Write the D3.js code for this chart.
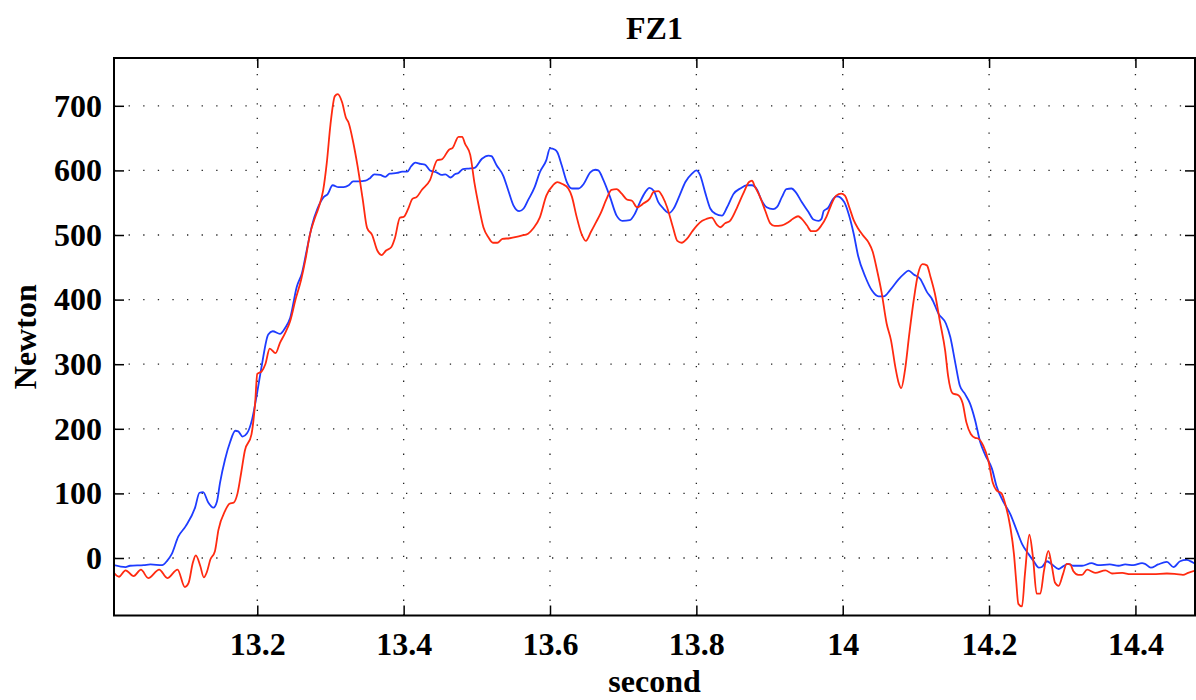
<!DOCTYPE html>
<html>
<head>
<meta charset="utf-8">
<script src="https://cdn.jsdelivr.net/npm/d3@7"></script>
<style>
  body { margin: 0; background: #fff; }
  text { font-family: "Liberation Serif", "Times New Roman", serif; font-weight: bold; }
</style>
</head>
<body>
<svg id="chart" width="1196" height="700"></svg>
<script>
// tick values
const xTicks = [13.2, 13.4, 13.6, 13.8, 14, 14.2, 14.4];
const yTicks = [0, 100, 200, 300, 400, 500, 600, 700];

// blue trace: [second, newton]
const blueSeries = [
  [13.004,-11],[13.020,-14],[13.026,-12],[13.045,-11],[13.054,-10],[13.070,-11],[13.077,-4],[13.083,6],
  [13.092,33],[13.102,49],[13.115,78],[13.121,101],[13.126,102],[13.133,86],[13.140,78],[13.145,88],
  [13.149,116],[13.156,153],[13.163,180],[13.170,197],[13.174,196],[13.180,188],[13.186,193],[13.193,215],
  [13.200,257],[13.206,297],[13.215,346],[13.221,351],[13.231,347],[13.238,356],[13.245,372],[13.254,420],
  [13.261,441],[13.268,479],[13.275,516],[13.282,540],[13.291,559],[13.296,563],[13.303,577],[13.311,574],
  [13.318,574],[13.325,577],[13.331,583],[13.339,583],[13.348,584],[13.354,588],[13.360,594],[13.368,593],
  [13.375,590],[13.381,595],[13.391,596],[13.398,598],[13.405,598],[13.410,606],[13.416,612],[13.423,610],
  [13.429,609],[13.436,600],[13.445,597],[13.452,593],[13.457,594],[13.464,589],[13.470,594],[13.475,596],
  [13.481,602],[13.491,603],[13.497,604],[13.507,618],[13.516,623],[13.520,622],[13.527,608],[13.536,592],
  [13.543,569],[13.550,546],[13.558,537],[13.564,541],[13.570,554],[13.579,574],[13.586,597],[13.595,616],
  [13.600,634],[13.607,632],[13.610,628],[13.616,608],[13.623,582],[13.630,572],[13.639,572],[13.646,579],
  [13.655,597],[13.662,601],[13.666,600],[13.673,585],[13.682,559],[13.691,530],[13.699,522],[13.709,523],
  [13.716,533],[13.723,551],[13.730,566],[13.736,573],[13.742,568],[13.748,551],[13.755,541],[13.763,534],
  [13.769,541],[13.777,561],[13.785,582],[13.794,595],[13.800,600],[13.805,593],[13.812,566],[13.819,541],
  [13.826,533],[13.835,530],[13.842,543],[13.851,564],[13.860,572],[13.869,577],[13.876,577],[13.883,570],
  [13.889,554],[13.896,543],[13.905,540],[13.910,543],[13.917,559],[13.923,571],[13.930,572],[13.936,566],
  [13.944,551],[13.953,536],[13.960,524],[13.967,522],[13.971,525],[13.974,537],[13.980,542],[13.987,556],
  [13.992,560],[14.002,551],[14.008,533],[14.015,502],[14.021,468],[14.031,435],[14.040,414],[14.049,405],
  [14.056,405],[14.065,415],[14.076,431],[14.083,439],[14.090,445],[14.097,439],[14.106,432],[14.115,412],
  [14.122,401],[14.131,378],[14.141,363],[14.147,342],[14.154,301],[14.160,267],[14.167,254],[14.174,239],
  [14.181,213],[14.188,179],[14.195,159],[14.204,138],[14.210,112],[14.220,86],[14.229,68],[14.238,42],
  [14.245,22],[14.254,6],[14.261,-5],[14.268,-15],[14.272,-14],[14.279,-5],[14.286,-10],[14.295,-17],
  [14.301,-13],[14.308,-9],[14.315,-12],[14.327,-12],[14.340,-8],[14.349,-11],[14.365,-10],[14.377,-12],
  [14.386,-10],[14.397,-11],[14.409,-8],[14.413,-9],[14.421,-15],[14.431,-10],[14.443,-6],[14.452,-14],
  [14.461,-5],[14.470,-3],[14.477,-6],[14.483,-10]
];

// red trace: [second, newton]
const redSeries = [
  [13.004,-23],[13.011,-29],[13.020,-19],[13.031,-28],[13.041,-18],[13.051,-31],[13.066,-18],[13.077,-31],
  [13.091,-18],[13.101,-45],[13.106,-39],[13.112,-7],[13.116,4],[13.122,-12],[13.127,-30],[13.131,-22],
  [13.136,-2],[13.142,10],[13.147,44],[13.156,73],[13.162,84],[13.168,86],[13.173,100],[13.178,132],
  [13.183,166],[13.192,191],[13.197,239],[13.200,285],[13.206,289],[13.211,300],[13.217,324],[13.225,317],
  [13.231,333],[13.238,348],[13.245,367],[13.252,399],[13.260,431],[13.266,463],[13.272,501],[13.278,524],
  [13.284,543],[13.290,569],[13.295,612],[13.300,671],[13.306,715],[13.310,718],[13.316,705],[13.321,682],
  [13.325,673],[13.331,644],[13.337,607],[13.344,556],[13.350,511],[13.357,500],[13.364,476],[13.370,469],
  [13.376,476],[13.383,481],[13.388,495],[13.395,527],[13.400,528],[13.406,540],[13.412,556],[13.418,559],
  [13.425,570],[13.436,585],[13.446,616],[13.452,617],[13.462,632],[13.467,635],[13.475,652],[13.480,652],
  [13.484,641],[13.491,624],[13.497,579],[13.503,543],[13.509,512],[13.516,496],[13.522,488],[13.528,488],
  [13.535,494],[13.545,495],[13.554,497],[13.561,499],[13.570,502],[13.577,510],[13.586,527],[13.595,561],
  [13.604,577],[13.610,582],[13.617,579],[13.625,572],[13.630,559],[13.636,530],[13.643,502],[13.649,491],
  [13.656,505],[13.663,520],[13.669,533],[13.677,555],[13.684,570],[13.691,571],[13.698,564],[13.705,555],
  [13.712,553],[13.719,543],[13.728,549],[13.736,556],[13.742,567],[13.748,568],[13.754,559],[13.760,543],
  [13.768,512],[13.774,491],[13.780,488],[13.787,494],[13.794,505],[13.801,515],[13.808,522],[13.814,525],
  [13.821,527],[13.828,516],[13.833,512],[13.839,518],[13.846,522],[13.855,541],[13.864,564],[13.872,582],
  [13.876,584],[13.880,575],[13.887,559],[13.894,538],[13.901,518],[13.907,514],[13.917,515],[13.926,520],
  [13.932,525],[13.939,529],[13.944,525],[13.951,515],[13.957,506],[13.963,506],[13.971,515],[13.978,529],
  [13.984,546],[13.991,561],[13.998,564],[14.003,561],[14.009,543],[14.015,523],[14.021,510],[14.028,499],
  [14.035,489],[14.041,474],[14.047,445],[14.053,412],[14.060,363],[14.066,337],[14.072,295],[14.076,273],
  [14.080,263],[14.085,290],[14.091,347],[14.097,399],[14.103,440],[14.109,455],[14.115,453],[14.120,435],
  [14.126,409],[14.133,365],[14.140,321],[14.144,282],[14.150,255],[14.158,252],[14.164,239],[14.169,210],
  [14.175,192],[14.181,186],[14.185,185],[14.192,174],[14.199,151],[14.205,117],[14.210,105],[14.217,100],
  [14.222,84],[14.229,48],[14.234,6],[14.237,-35],[14.240,-71],[14.245,-75],[14.249,-25],[14.255,36],
  [14.260,1],[14.265,-55],[14.270,-55],[14.275,-20],[14.281,11],[14.286,-14],[14.290,-38],[14.295,-43],
  [14.301,-25],[14.306,-9],[14.311,-10],[14.315,-20],[14.322,-26],[14.327,-26],[14.334,-18],[14.345,-23],
  [14.359,-19],[14.368,-24],[14.382,-23],[14.393,-25],[14.406,-25],[14.424,-25],[14.443,-24],[14.456,-25],
  [14.465,-26],[14.472,-23],[14.483,-19]
];

const svg = d3.select("#chart");
const pLeft = 114, pRight = 1195, pTop = 58, pBottom = 615.5;

const x = d3.scaleLinear().domain([13.0042, 14.4814]).range([pLeft, pRight]);
const y = d3.scaleLinear().domain([-89, 774]).range([pBottom, pTop]);

// dotted grid
const grid = svg.append("g").attr("stroke", "#222").attr("stroke-width", 1.3)
  .attr("stroke-dasharray", "1.3,13.3");
grid.selectAll(".vg").data(xTicks).enter().append("line")
  .attr("x1", d => x(d)).attr("x2", d => x(d)).attr("y1", pBottom).attr("y2", pTop);
grid.selectAll(".hg").data(yTicks).enter().append("line")
  .attr("y1", d => y(d)).attr("y2", d => y(d)).attr("x1", pLeft).attr("x2", pRight);

// traces
svg.append("clipPath").attr("id", "clip").append("rect")
  .attr("x", pLeft).attr("y", pTop).attr("width", pRight - pLeft).attr("height", pBottom - pTop);

const line = d3.line().x(d => x(d[0])).y(d => y(d[1])).curve(d3.curveMonotoneX);
const plot = svg.append("g").attr("clip-path", "url(#clip)");
plot.append("path").datum(blueSeries).attr("d", line)
  .attr("fill", "none").attr("stroke", "#1e3cff").attr("stroke-width", 1.8);
plot.append("path").datum(redSeries).attr("d", line)
  .attr("fill", "none").attr("stroke", "#ff2a10").attr("stroke-width", 1.8);

// axes with inward ticks
const fmt = d => String(d);
svg.append("g").attr("transform", `translate(0,${pBottom})`)
  .call(d3.axisBottom(x).tickValues(xTicks).tickSize(-10).tickPadding(17).tickFormat(fmt));
svg.append("g").attr("transform", `translate(${pLeft},0)`)
  .call(d3.axisLeft(y).tickValues(yTicks).tickSize(-10).tickPadding(12).tickFormat(fmt));
svg.append("g").attr("transform", `translate(0,${pTop})`)
  .call(d3.axisTop(x).tickValues(xTicks).tickSize(-10).tickFormat(""));
svg.append("g").attr("transform", `translate(${pRight},0)`)
  .call(d3.axisRight(y).tickValues(yTicks).tickSize(-10).tickFormat(""));

svg.selectAll(".domain").remove();
svg.selectAll(".tick line").attr("stroke", "#000").attr("stroke-width", 1.5);
svg.selectAll(".tick text").attr("fill", "#000").style("font-size", "32px")
  .style("font-family", "'Liberation Serif', serif").style("font-weight", "bold");

svg.append("rect").attr("x", pLeft).attr("y", pTop).attr("width", pRight - pLeft).attr("height", pBottom - pTop)
  .attr("fill", "none").attr("stroke", "#000").attr("stroke-width", 2);

// labels
svg.append("text").attr("x", (pLeft + pRight) / 2).attr("y", 39).attr("text-anchor", "middle")
  .style("font-size", "32px").text("FZ1");
svg.append("text").attr("x", (pLeft + pRight) / 2).attr("y", 692).attr("text-anchor", "middle")
  .style("font-size", "32px").text("second");
svg.append("text").attr("transform", `translate(36,${(pTop + pBottom) / 2}) rotate(-90)`)
  .attr("text-anchor", "middle").style("font-size", "32px").text("Newton");
</script>
</body>
</html>
